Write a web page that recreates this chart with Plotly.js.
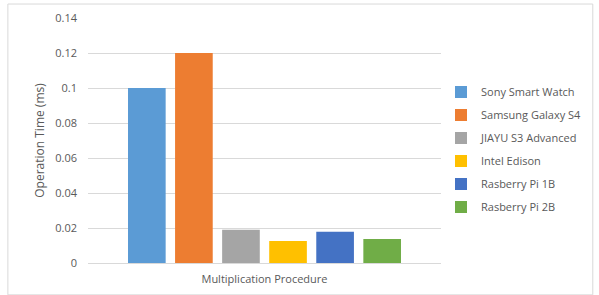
<!DOCTYPE html>
<html><head><meta charset="utf-8">
<script src="https://cdn.plot.ly/plotly-3.0.1.min.js"></script>
<style>html,body{margin:0;padding:0;background:#fff}#chart{width:599px;height:295px}</style>
</head><body><div id="chart"></div>
<script>
const category = ["Multiplication Procedure"];
const devices = ["Sony Smart Watch","Samsung Galaxy S4","JIAYU S3 Advanced","Intel Edison","Rasberry Pi 1B","Rasberry Pi 2B"];
const times = [0.1, 0.12, 0.019, 0.0126, 0.0178, 0.0137];
const colors = ["#5B9BD5","#ED7D31","#A5A5A5","#FFC000","#4472C4","#70AD47"];
const yTicks = [0,0.02,0.04,0.06,0.08,0.1,0.12,0.14];
const yTickText = ["0","0.02","0.04","0.06","0.08","0.1","0.12","0.14"];

const traces = devices.map((d,i)=>({
  type:"bar", name:d, x:category, y:[times[i]],
  marker:{color:colors[i]}, legendgroup:"g"+i, hoverinfo:"y"
}));

const font = {family:"Open Sans, Liberation Sans, sans-serif", color:"#595959", size:11};
const layout = {
  width:599, height:295,
  margin:{l:88, r:154, t:18, b:32},
  paper_bgcolor:"#fff", plot_bgcolor:"#fff",
  font:font,
  barmode:"group", bargap:0.2, bargroupgap:0.2,
  xaxis:{showgrid:false, showline:false, zeroline:false, ticks:"", tickfont:{size:11,color:"#595959"}, ticklabelstandoff:8},
  yaxis:{range:[0,0.14], tickvals:yTicks, ticktext:yTickText, showgrid:true, gridcolor:"#D9D9D9", gridwidth:1,
         zeroline:true, zerolinecolor:"#D9D9D9", zerolinewidth:1, showline:false, ticks:"",
         tickfont:{size:11,color:"#595959"}, ticklabelstandoff:10,
         title:{text:"Operation Time (ms)", font:{size:12,color:"#595959"}, standoff:8}},
  legend:{x:1.0, xanchor:"left", xref:"paper", y:0.463, yanchor:"middle", font:{size:11,color:"#595959"},
          tracegroupgap:4, traceorder:"grouped", itemwidth:30, bgcolor:"rgba(0,0,0,0)"},
  shapes:[{type:"rect", xref:"paper", yref:"paper", x0:-0.227, x1:1.43, y0:-0.13, y1:1.057,
           line:{color:"#D9D9D9", width:1}, fillcolor:"rgba(0,0,0,0)", layer:"below"}],
  showlegend:true
};
Plotly.newPlot("chart", traces, layout, {displayModeBar:false, staticPlot:true});
</script></body></html>
